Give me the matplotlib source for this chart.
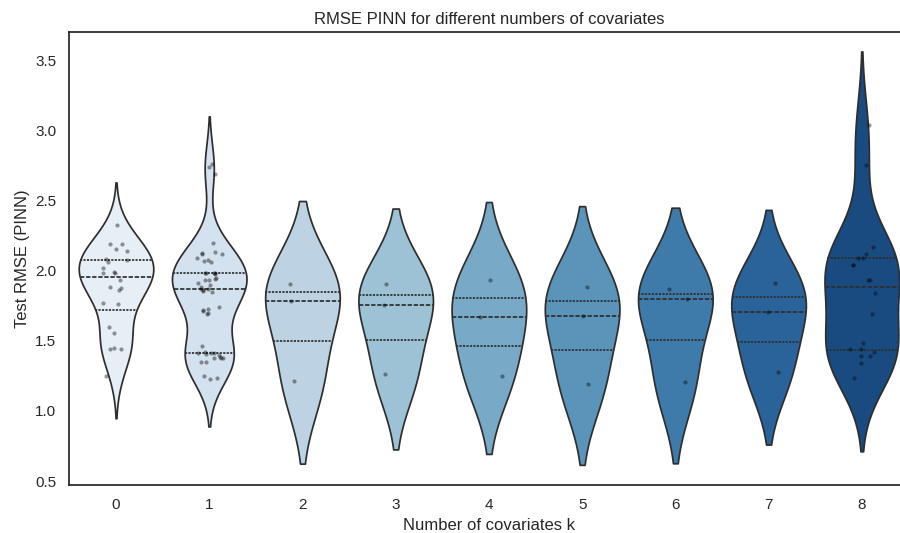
import numpy as np
import pandas as pd
import matplotlib
matplotlib.use("Agg")
import matplotlib.pyplot as plt
import seaborn as sns

# Test RMSE (PINN) per number of covariates k
k0 = [2.325, 2.187, 2.187, 2.151, 2.139, 2.075, 2.082, 2.058, 2.016, 1.988,
      1.980, 1.980, 1.933, 1.885, 1.874, 1.861, 1.767, 1.760, 1.595, 1.553,
      1.440, 1.440, 1.445, 1.250]
k1 = [1.227, 1.234, 1.248, 1.346, 1.346, 1.375, 1.380, 1.380, 1.385, 1.400,
      1.405, 1.410, 1.410, 1.415, 1.417, 1.462,
      1.690, 1.700, 1.710, 1.720, 1.726, 1.740,
      1.850, 1.855, 1.860, 1.865, 1.870, 1.880, 1.900, 1.910, 1.930, 1.935,
      1.940, 1.950,
      1.975, 1.980, 1.980, 1.980, 1.985,
      2.063, 2.070, 2.075, 2.087,
      2.116, 2.120, 2.123, 2.134, 2.199,
      2.690, 2.740, 2.760]
k2 = [1.904, 1.785, 1.215]
k3 = [1.904, 1.752, 1.263]
k4 = [1.933, 1.671, 1.248]
k5 = [1.885, 1.678, 1.189]
k6 = [1.866, 1.800, 1.208]
k7 = [1.913, 1.707, 1.279]
k8 = [3.037, 2.752, 2.170, 2.118, 2.087, 2.087, 2.040, 2.040, 1.933, 1.933,
      1.838, 1.688, 1.481, 1.439, 1.439, 1.420, 1.393, 1.393, 1.343, 1.236]

groups = [k0, k1, k2, k3, k4, k5, k6, k7, k8]
categories = [str(i) for i in range(9)]

rows = []
for cat, vals in zip(categories, groups):
    for v in vals:
        rows.append((cat, v))
df = pd.DataFrame(rows, columns=["k", "rmse"])

sns.set_theme(style="white")
plt.rcParams["font.family"] = ["Liberation Sans", "DejaVu Sans"]

fig = plt.figure(figsize=(9, 5.33), dpi=100)
ax = fig.add_axes([69.4 / 900, 48 / 533, 839 / 900, 453 / 533])

palette = sns.color_palette("Blues", 9)
sns.violinplot(data=df, x="k", y="rmse", hue="k", palette=palette,
               order=categories, hue_order=categories, legend=False,
               inner="quart", density_norm="width", ax=ax)
np.random.seed(3)
sns.stripplot(data=df, x="k", y="rmse", order=categories, color="black",
              alpha=0.4, size=3, jitter=0.15, ax=ax)

ax.set_xlim(-0.5, 8.5)
ax.set_ylim(0.4715, 3.70)
ax.set_title("RMSE PINN for different numbers of covariates", fontsize=12)
ax.set_xlabel("Number of covariates k", fontsize=12)
ax.set_ylabel("Test RMSE (PINN)", fontsize=12)
ax.tick_params(labelsize=11)

fig.savefig("out.png", dpi=100)
